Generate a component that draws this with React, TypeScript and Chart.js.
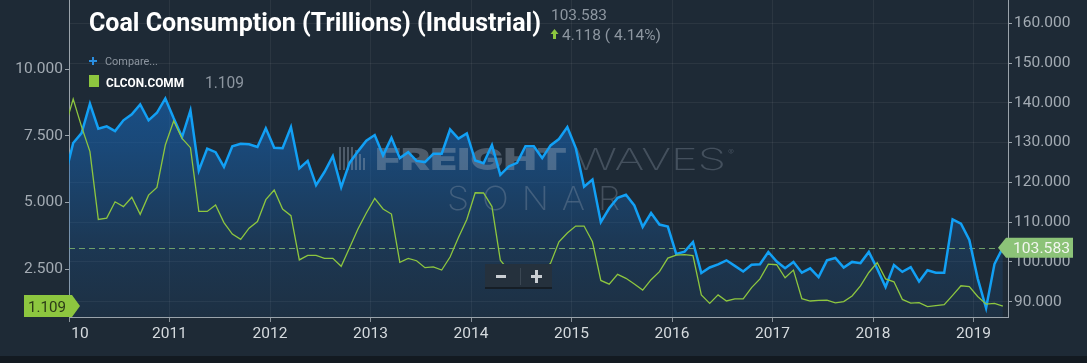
import React, { useEffect, useRef } from 'react';
import { Chart, registerables } from 'chart.js';

Chart.register(...registerables);

// First point is December 2009 (partly clipped at the left edge), monthly after that.
const START_YEAR = 2009;
const START_MONTH = 12;

// Coal Consumption (Trillions) (Industrial) — right axis
const coalIndustrial: number[] = [
  121.3,
  129.9, 132.4, 139.8, 133.5, 134.1, 132.9, 135.6, 137.1, 139.6, 135.6, 137.5, 141.1,
  136.1, 131.4, 138.1, 123.0, 128.5, 127.6, 123.9, 129.1, 129.7, 129.6, 128.9, 133.6,
  128.7, 128.6, 133.9, 123.5, 125.4, 119.3, 122.6, 126.6, 118.8, 124.9, 127.8, 130.5,
  131.9, 126.8, 131.2, 126.1, 127.6, 125.4, 125.1, 127.2, 127.2, 133.3, 131.0, 132.3,
  125.5, 124.8, 129.4, 121.9, 124.0, 124.9, 129.1, 129.1, 126.1, 129.3, 130.9, 133.9,
  128.7, 118.9, 120.7, 110.0, 113.5, 116.1, 116.9, 114.2, 108.8, 112.3, 109.4, 108.9,
  102.0, 102.6, 105.0, 97.2, 98.6, 99.4, 100.4, 99.0, 97.6, 99.3, 99.4, 102.5,
  100.1, 98.4, 100.0, 97.3, 98.4, 96.2, 100.4, 101.0, 98.6, 100.0, 99.7, 102.5,
  98.3, 93.7, 99.2, 97.5, 98.7, 95.1, 97.9, 97.3, 97.3, 110.7, 109.6, 105.5,
  95.8, 88.4, 99.465, 103.583,
];

// CLCON.COMM — left axis
const clconComm: number[] = [
  7.8,
  8.87, 7.84, 6.9, 4.36, 4.41, 5.02, 4.84, 5.19, 4.55, 5.27, 5.56, 7.15,
  8.05, 7.4, 7.05, 4.66, 4.66, 4.9, 4.24, 3.81, 3.61, 4.03, 4.28, 5.1,
  5.46, 4.75, 4.5, 2.84, 3.01, 3.01, 2.9, 2.9, 2.6, 3.3, 4.0, 4.6,
  5.15, 4.75, 4.56, 2.75, 2.9, 2.81, 2.55, 2.58, 2.46, 2.95, 3.68, 4.36,
  5.36, 5.35, 4.84, 2.83, 2.45, 2.35, 2.2, 2.3, 2.4, 2.72, 3.52, 3.85,
  4.11, 4.11, 3.52, 2.07, 1.93, 2.3, 2.15, 1.94, 1.71, 2.1, 2.4, 2.91,
  3.02, 3.04, 3.0, 1.53, 1.21, 1.53, 1.3, 1.38, 1.38, 1.8, 2.13, 2.68,
  2.66, 2.17, 2.46, 1.39, 1.3, 1.32, 1.33, 1.23, 1.28, 1.49, 1.87, 2.37,
  2.74, 2.13, 2.02, 1.36, 1.22, 1.24, 1.09, 1.13, 1.16, 1.51, 1.87, 1.84,
  1.47, 1.18, 1.21, 1.109,
];

const yearTicks: number[] = [2010, 2011, 2012, 2013, 2014, 2015, 2016, 2017, 2018, 2019];
const yearLabels: string[] = ['10', '2011', '2012', '2013', '2014', '2015', '2016', '2017', '2018', '2019'];
const rightTicks: number[] = [90, 100, 110, 120, 130, 140, 150, 160];
const leftTicks: number[] = [2.5, 5, 7.5, 10];

const TITLE = 'Coal Consumption (Trillions) (Industrial)';
const LAST_MAIN = 103.583;
const CHANGE = 4.118;
const CHANGE_PCT = 4.14;
const COMPARE_NAME = 'CLCON.COMM';
const LAST_COMPARE = 1.109;

const BG = '#1e2a36';
const BLUE = '#12a0f5';
const GREEN = '#8dc63f';
const FONT = 'Roboto';

function monthX(i: number): number {
  return START_YEAR + (START_MONTH - 1 + i + 0.5) / 12;
}

function fitText(
  ctx: CanvasRenderingContext2D,
  text: string,
  x: number,
  baseline: number,
  width: number,
  font: string,
  color: string,
  spacing = '0px'
) {
  ctx.save();
  ctx.font = font;
  (ctx as any).letterSpacing = spacing;
  ctx.textAlign = 'left';
  ctx.textBaseline = 'alphabetic';
  const w = ctx.measureText(text).width;
  ctx.translate(x, baseline);
  ctx.scale(width / w, 1);
  ctx.fillStyle = color;
  ctx.fillText(text, 0, 0);
  ctx.restore();
}

const decor = {
  id: 'decor',
  beforeDraw(chart: any) {
    const { ctx, width, height } = chart;
    ctx.save();
    ctx.fillStyle = BG;
    ctx.fillRect(0, 0, width, height);
    ctx.fillStyle = '#131a21';
    ctx.fillRect(0, 356, width, height - 356);
    ctx.restore();
  },
  beforeDatasetsDraw(chart: any) {
    const { ctx, chartArea } = chart;
    const wm = 'rgba(150,162,176,0.32)';
    const wmStrong = 'rgba(150,165,182,0.40)';
    // watermark icon bars
    ctx.save();
    ctx.fillStyle = wmStrong;
    const bars = [23, 23, 23, 23, 20, 16, 12];
    bars.forEach((h, k) => {
      ctx.fillRect(339 + k * 4, 170 - h, 2, h);
    });
    ctx.restore();
    fitText(ctx, 'FREIGHT', 375, 170, 192, `900 30px Inter`, wmStrong);
    fitText(ctx, 'WAVES', 574, 170, 152, `200 30px Inter`, wm);
    fitText(ctx, '®', 728, 155, 6, `300 8px Inter`, wm);
    fitText(ctx, 'SONAR', 447, 210, 186, `200 33px Inter`, wm, '12px');

    // dashed last-value line
    const y = chart.scales.yR.getPixelForValue(LAST_MAIN);
    ctx.save();
    ctx.strokeStyle = 'rgba(125,180,110,0.85)';
    ctx.lineWidth = 1;
    ctx.setLineDash([6, 4]);
    ctx.beginPath();
    ctx.moveTo(chartArea.left, Math.round(y) + 0.5);
    ctx.lineTo(chartArea.right, Math.round(y) + 0.5);
    ctx.stroke();
    ctx.restore();
  },
  afterDraw(chart: any) {
    const { ctx } = chart;
    // Title block
    fitText(ctx, TITLE, 89, 31, 452, `bold 25px ${FONT}`, '#ffffff');
    fitText(ctx, LAST_MAIN.toFixed(3), 551, 20, 56, `15px ${FONT}`, '#8d96a0');
    ctx.save();
    ctx.fillStyle = GREEN;
    ctx.beginPath();
    ctx.moveTo(554.5, 29);
    ctx.lineTo(550.5, 34);
    ctx.lineTo(558.5, 34);
    ctx.closePath();
    ctx.fill();
    ctx.fillRect(553, 34, 3, 5);
    ctx.restore();
    fitText(ctx, `${CHANGE.toFixed(3)} ( ${CHANGE_PCT.toFixed(2)}%)`, 562, 39.5, 99, `15px ${FONT}`, '#8d96a0');

    // Compare / legend
    ctx.save();
    ctx.fillStyle = '#2a8ee0';
    ctx.fillRect(89, 60, 8, 2);
    ctx.fillRect(92, 57, 2, 8);
    ctx.restore();
    fitText(ctx, 'Compare...', 105, 65, 53, `11px ${FONT}`, '#8d96a0');
    ctx.save();
    ctx.fillStyle = GREEN;
    ctx.fillRect(89, 75, 10, 12);
    ctx.restore();
    fitText(ctx, COMPARE_NAME, 106, 86.5, 78, `bold 13px ${FONT}`, '#ffffff');
    fitText(ctx, LAST_COMPARE.toFixed(3), 205, 87.5, 39, `16px ${FONT}`, '#8d96a0');

    // clipped first x label
    ctx.save();
    ctx.font = `15.5px ${FONT}`;
    ctx.fillStyle = '#d5dade';
    ctx.textAlign = 'center';
    ctx.textBaseline = 'middle';
    ctx.fillText(yearLabels[0], 80, 334.5);
    ctx.restore();

    // Right badge
    const yr = chart.scales.yR.getPixelForValue(LAST_MAIN);
    ctx.save();
    ctx.fillStyle = '#8cc378';
    ctx.beginPath();
    ctx.moveTo(998, yr);
    ctx.lineTo(1006, yr - 10);
    ctx.lineTo(1073, yr - 10);
    ctx.lineTo(1073, yr + 10);
    ctx.lineTo(1006, yr + 10);
    ctx.closePath();
    ctx.fill();
    ctx.restore();
    fitText(ctx, LAST_MAIN.toFixed(3), 1013, yr + 5.5, 57, `15.5px ${FONT}`, '#f2f6ef');

    // Left badge
    const yl = chart.scales.yL.getPixelForValue(LAST_COMPARE);
    ctx.save();
    ctx.fillStyle = GREEN;
    ctx.beginPath();
    ctx.moveTo(24, yl - 11);
    ctx.lineTo(72, yl - 11);
    ctx.lineTo(80, yl);
    ctx.lineTo(72, yl + 11);
    ctx.lineTo(24, yl + 11);
    ctx.closePath();
    ctx.fill();
    ctx.restore();
    fitText(ctx, LAST_COMPARE.toFixed(3), 28, yl + 5.5, 38, `15.5px ${FONT}`, '#2b3a17');

    // Zoom buttons
    ctx.save();
    ctx.fillStyle = '#25313d';
    ctx.fillRect(485, 264, 67, 24);
    ctx.fillStyle = '#161e26';
    ctx.fillRect(485, 287, 67, 2);
    ctx.fillStyle = '#3b4753';
    ctx.fillRect(520, 268, 1, 17);
    ctx.fillStyle = '#c9ced3';
    ctx.fillRect(496, 275, 10, 3);
    ctx.fillRect(531, 275, 11, 3);
    ctx.fillRect(535, 270, 3, 13);
    ctx.restore();
  },
};

export default function App() {
  const canvasRef = useRef<HTMLCanvasElement | null>(null);

  useEffect(() => {
    document.body.style.margin = '0';
    const canvas = canvasRef.current;
    if (!canvas) return;

    const blueData = coalIndustrial.map((v, i) => ({ x: monthX(i), y: v }));
    const greenData = clconComm.map((v, i) => ({ x: monthX(i), y: v }));

    const tickFont = { family: FONT, size: 15.5 };

    const chart = new Chart(canvas, {
      type: 'line',
      data: {
        datasets: [
          {
            label: COMPARE_NAME,
            data: greenData,
            yAxisID: 'yL',
            borderColor: GREEN,
            borderWidth: 1.3,
            pointRadius: 0,
            fill: false,
            tension: 0,
          },
          {
            label: TITLE,
            data: blueData,
            yAxisID: 'yR',
            borderColor: BLUE,
            borderWidth: 2.5,
            pointRadius: 0,
            tension: 0,
            fill: 'start',
            backgroundColor: (c: any) => {
              const area = c.chart.chartArea;
              if (!area) return 'rgba(22,100,180,0.4)';
              const g = c.chart.ctx.createLinearGradient(0, area.top, 0, area.bottom);
              g.addColorStop(0, 'rgba(22,100,180,0.72)');
              g.addColorStop(0.32, 'rgba(22,100,180,0.62)');
              g.addColorStop(0.47, 'rgba(22,100,180,0.52)');
              g.addColorStop(0.79, 'rgba(22,100,180,0.22)');
              g.addColorStop(1, 'rgba(22,100,180,0.1)');
              return g;
            },
          },
        ],
      },
      options: {
        animation: false,
        responsive: false,
        devicePixelRatio: 1,
        layout: { padding: { left: 0, right: 0, top: 0, bottom: 0 } },
        plugins: {
          legend: { display: false },
          tooltip: { enabled: false },
          filler: { drawTime: 'beforeDatasetsDraw' },
        },
        scales: {
          x: {
            type: 'linear',
            position: 'bottom',
            min: 2010,
            max: 2019.343,
            afterBuildTicks: (s: any) => {
              s.ticks = yearTicks.map((v) => ({ value: v }));
            },
            afterFit: (s: any) => {
              s.height = 46;
              s.paddingLeft = 0;
              s.paddingRight = 0;
            },
            ticks: {
              autoSkip: false,
              maxRotation: 0,
              padding: 3,
              color: '#d5dade',
              font: tickFont,
              callback: (v: any) => {
                const k = yearTicks.indexOf(Number(v));
                return k <= 0 ? '' : yearLabels[k];
              },
            },
            grid: {
              color: 'rgba(255,255,255,0.06)',
              tickColor: '#8a939b',
              tickLength: 5,
            },
            border: { color: '#9aa3ab', width: 1 },
          },
          yL: {
            type: 'linear',
            position: 'left',
            min: 0.7,
            max: 12.5875,
            afterBuildTicks: (s: any) => {
              s.ticks = leftTicks.map((v) => ({ value: v }));
            },
            afterFit: (s: any) => {
              s.width = 69;
              s.paddingTop = 0;
              s.paddingBottom = 0;
            },
            ticks: {
              padding: 2,
              color: '#a3abb3',
              font: tickFont,
              callback: (v: any) => Number(v).toFixed(3),
            },
            grid: {
              drawOnChartArea: false,
              tickColor: '#9aa3ab',
              tickLength: 4,
            },
            border: { color: '#9aa3ab', width: 1 },
          },
          yR: {
            type: 'linear',
            position: 'right',
            min: 86.15,
            max: 165.86,
            afterBuildTicks: (s: any) => {
              s.ticks = rightTicks.map((v) => ({ value: v }));
            },
            afterFit: (s: any) => {
              s.width = 79;
              s.paddingTop = 0;
              s.paddingBottom = 0;
            },
            ticks: {
              padding: 2,
              color: '#a3abb3',
              font: tickFont,
              callback: (v: any) => Number(v).toFixed(3),
            },
            grid: {
              color: 'rgba(255,255,255,0.06)',
              tickColor: '#9aa3ab',
              tickLength: 4,
            },
            border: { color: '#9aa3ab', width: 1 },
          },
        },
      },
      plugins: [decor],
    } as any);

    return () => {
      chart.destroy();
    };
  }, []);

  return (
    <div style={{ position: 'fixed', left: 0, top: 0, width: 1087, height: 363 }}>
      <canvas ref={canvasRef} width={1087} height={363} style={{ display: 'block', width: 1087, height: 363 }} />
    </div>
  );
}
